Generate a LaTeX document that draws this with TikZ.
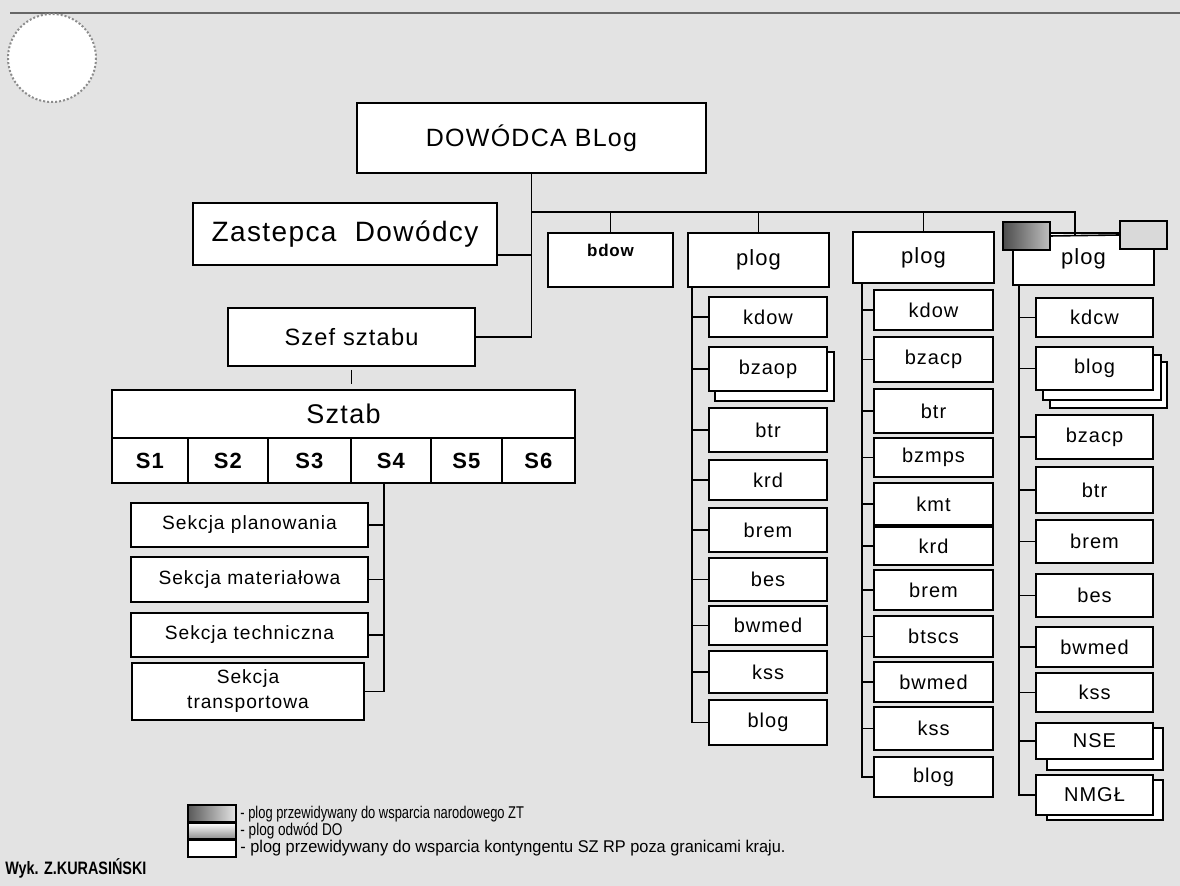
\documentclass[tikz,border=0pt]{standalone}
\usepackage{fontspec}
\usepackage{graphicx}
\setmainfont{Liberation Sans}[LetterSpace=5]
\newfontfamily\narrowf{Liberation Sans}[FakeStretch=0.8]
\usetikzlibrary{calc}
\newcommand\bx[7][]{\node[box,#1,minimum width={(#5-#3)*0.5pt},minimum height={(#6-#4)*0.5pt}] (#2) at ({(#3+#5)/2},{(#4+#6)/2}) {#7};}
\newcommand\shd[4]{\draw[shadowbox] (#1,#2) rectangle (#3,#4);}
\begin{document}
\begin{tikzpicture}[x=0.5pt,y=-0.5pt,
  box/.style={draw,fill=white,line width=1pt,inner sep=0pt,outer sep=0pt,align=center,font=\fontsize{10}{12}\selectfont},
  kid/.style={font=\fontsize{10}{12}\selectfont},
  sek/.style={font=\fontsize{9.6}{12}\selectfont},
  pl/.style={font=\fontsize{11}{13}\selectfont},
  shadowbox/.style={draw,fill=white,line width=0.8pt},
  conn/.style={line width=0.8pt},
  legtxt/.style={anchor=west,inner sep=0pt,font=\narrowf\fontsize{8.5}{10}\selectfont}]
\fill[black!11] (0,0) rectangle (1180,886);
\useasboundingbox (0,0) rectangle (1180,886);
\draw[black!60,line width=1.4pt] (10,13) -- (1180,13);
\draw[black!45,densely dotted,line width=1pt,fill=white] (52,58) circle (44);
% main boxes
\bx[font=\fontsize{12.5}{14}\selectfont]{dow}{357}{103}{706}{173}{DOWÓDCA BLog}
\bx[font=\fontsize{14}{16}\selectfont]{zast}{193}{203}{497}{265}{Zastepca\ \ Dowódcy}
\bx[font=\fontsize{11.8}{14}\selectfont]{szef}{228}{308}{475}{366}{Szef sztabu}
\bx[font=\fontsize{13.5}{16}\selectfont]{sztab}{112}{390}{575}{438}{Sztab}
\bx[font=\bfseries\fontsize{11}{13}\selectfont]{s1}{112}{438}{188}{483}{S1}
\bx[font=\bfseries\fontsize{11}{13}\selectfont]{s2}{188}{438}{268}{483}{S2}
\bx[font=\bfseries\fontsize{11}{13}\selectfont]{s3}{268}{438}{351}{483}{S3}
\bx[font=\bfseries\fontsize{11}{13}\selectfont]{s4}{351}{438}{431}{483}{S4}
\bx[font=\bfseries\fontsize{11}{13}\selectfont]{s5}{431}{438}{502}{483}{S5}
\bx[font=\bfseries\fontsize{11}{13}\selectfont]{s6}{502}{438}{575}{483}{S6}
\bx[sek]{sek1}{131}{503}{368}{547}{Sekcja planowania}
\bx[sek]{sek2}{131}{557}{368}{602}{Sekcja materiałowa}
\bx[sek]{sek3}{131}{613}{368}{657}{Sekcja techniczna}
\bx[font=\fontsize{9.6}{12.5}\selectfont]{sek4}{132}{663}{364}{720}{Sekcja\\transportowa}
\bx[font=\bfseries\fontsize{8.5}{10}\selectfont,text depth=10pt]{bdow}{548}{233}{673}{287}{bdow}
\bx[pl]{plog1}{688}{233}{829}{287}{plog}
\bx[pl]{plog2}{853}{232}{994}{283}{plog}
\bx[pl]{plog4}{1013}{233}{1154}{285}{plog}
\bx[left color=black!70,right color=black!25]{dark}{1003}{222}{1050}{250}{}
\bx[fill=black!15]{light}{1120}{221}{1167}{249}{}
% column 1
\bx[kid]{a1}{709}{297}{827}{337}{kdow}
\shd{715}{352}{834}{401}
\bx[kid]{a2}{709}{347}{827}{391}{bzaop}
\bx[kid]{a3}{709}{408}{827}{452}{btr}
\bx[kid]{a4}{709}{460}{827}{500}{krd}
\bx[kid]{a5}{709}{508}{827}{552}{brem}
\bx[kid]{a6}{709}{558}{827}{601}{bes}
\bx[kid]{a7}{709}{606}{827}{645}{bwmed}
\bx[kid]{a8}{709}{651}{827}{693}{kss}
\bx[kid]{a9}{709}{700}{827}{745}{blog}
% column 2
\bx[kid]{b1}{874}{290}{993}{330}{kdow}
\bx[kid]{b2}{874}{337}{993}{382}{bzacp}
\bx[kid]{b3}{874}{389}{993}{433}{btr}
\bx[kid]{b4}{874}{438}{993}{477}{bzmps}
\bx[kid]{b5}{874}{483}{993}{525}{kmt}
\bx[kid]{b6}{874}{527}{993}{565}{krd}
\bx[kid]{b7}{874}{570}{993}{610}{brem}
\bx[kid]{b8}{874}{616}{993}{657}{btscs}
\bx[kid]{b9}{874}{662}{993}{702}{bwmed}
\bx[kid]{b10}{874}{707}{993}{750}{kss}
\bx[kid]{b11}{874}{757}{993}{797}{blog}
% column 3
\bx[kid]{c1}{1036}{298}{1153}{337}{kdcw}
\shd{1050}{362}{1167}{408}
\shd{1043}{355}{1161}{400}
\bx[kid]{c2}{1036}{347}{1153}{390}{blog}
\bx[kid]{c3}{1036}{415}{1153}{459}{bzacp}
\bx[kid]{c4}{1036}{467}{1153}{513}{btr}
\bx[kid]{c5}{1036}{520}{1153}{563}{brem}
\bx[kid]{c6}{1036}{574}{1153}{617}{bes}
\bx[kid]{c7}{1036}{627}{1153}{667}{bwmed}
\bx[kid]{c8}{1036}{673}{1153}{712}{kss}
\shd{1047}{728}{1163}{770}
\bx[kid]{c9}{1036}{723}{1153}{759}{NSE}
\shd{1047}{780}{1163}{820}
\bx[kid]{c10}{1036}{775}{1153}{815}{NMGŁ}
% connectors main
\coordinate (tl) at (532,212);
\coordinate (tr) at (1075,212);
\coordinate (s4v) at (384,483);
\coordinate (v1) at (692,287);
\coordinate (v2) at (862,283);
\coordinate (v3) at (1019,285);
\draw[conn] (dow.south) -- (dow.south |- szef.east) -- (szef.east);
\draw[conn] ([yshift=-10.5pt]zast.east) -- ([yshift=-10.5pt]zast.east -| dow.south);
\draw[conn] (dow.south |- tl) -- (tr) -- (tr |- dark.east);
\draw[conn] (dark.east) -- (light.west);
\draw[conn] (bdow.north |- tl) -- (bdow.north);
\draw[conn] (plog1.north |- tl) -- (plog1.north);
\draw[conn] (plog2.north |- tl) -- (plog2.north);
\draw[conn,shorten <=2pt,shorten >=3pt] (szef.south) -- (szef.south |- sztab.north);
\draw[conn] (s4v) -- (s4v |- sek4.east) -- (sek4.east);
\foreach \n in {sek1,sek2,sek3} \draw[conn] (\n.east) -- (\n.east -| s4v);
% column connectors
\draw[conn] (v1) -- (v1 |- a9.west) -- (a9.west);
\foreach \n in {a1,a2,a3,a4,a5,a6,a7,a8} \draw[conn] (\n.west) -- (\n.west -| v1);
\draw[conn] (v2) -- (v2 |- b11.west) -- (b11.west);
\foreach \n in {b1,b2,b3,b4,b5,b6,b7,b8,b9,b10} \draw[conn] (\n.west) -- (\n.west -| v2);
\draw[conn] (v3) -- (v3 |- c10.west) -- (c10.west);
\foreach \n in {c1,c2,c3,c4,c5,c6,c7,c8,c9} \draw[conn] (\n.west) -- (\n.west -| v3);
% legend
\bx[left color=black!65,right color=black!10,line width=0.8pt]{lg1}{188}{805}{236}{822}{}
\bx[top color=white,bottom color=black!45,line width=0.8pt]{lg2}{188}{823}{236}{839}{}
\bx[line width=0.8pt]{lg3}{188}{840}{236}{857}{}
\node[legtxt] (t1) at (240,814) {\scalebox{0.95}[1]{- plog przewidywany do wsparcia narodowego ZT}};
\node[legtxt] (t2) at (240,831) {- plog odwód DO};
\node[legtxt] (t3) at (240,848) {\scalebox{1.2}[1]{- plog przewidywany do wsparcia kontyngentu SZ RP poza granicami kraju.}};
\node[anchor=west,inner sep=0pt,font=\narrowf\bfseries\fontsize{9}{10}\selectfont] (wyk) at (5,868) {Wyk. Z.KURASIŃSKI};
\end{tikzpicture}
\end{document}
